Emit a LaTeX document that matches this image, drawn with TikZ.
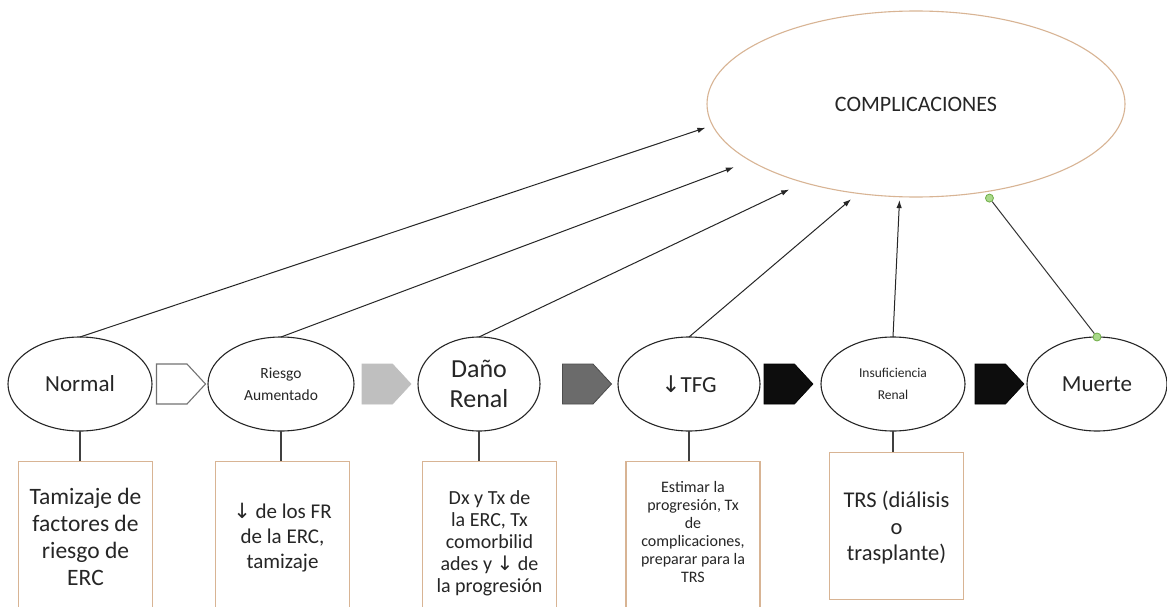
\documentclass[tikz,border=0pt]{standalone}
\usepackage{fontspec}
\setmainfont{Carlito}
\newfontfamily\symfont{DejaVu Sans}
\usetikzlibrary{arrows.meta,shapes.geometric,calc}
\newcommand{\dn}{{\symfont ↓}}
\definecolor{ink}{HTML}{262626}
\definecolor{tanline}{HTML}{D8B494}
\definecolor{dotfill}{HTML}{A9D98A}
\definecolor{dotedge}{HTML}{70AD47}
\tikzset{
  stage/.style={ellipse, draw=black!85, line width=1.1pt, inner sep=0pt, outer sep=0pt,
    minimum height=94, text=ink, align=center},
  note/.style={rectangle, draw=tanline, line width=1.1pt, fill=white, anchor=north,
    inner sep=0pt, minimum width=134, minimum height=170},
  notetext/.style={text=ink, align=center, inner sep=0pt},
  conn/.style={draw=black!85, line width=1pt, -{Latex[length=8pt,width=5.5pt]}},
  stem/.style={draw=black!75, line width=1.2pt},
  gdot/.style={circle, draw=dotedge, fill=dotfill, line width=0.8pt, minimum size=8, inner sep=0pt},
  pics/chev/.style={code={
    \draw[pic actions] (-24.5,-20) -- (6,-20) -- (24.5,0) -- (6,20) -- (-24.5,20) -- cycle;}}
}
\begin{document}
\begin{tikzpicture}[x=1pt,y=-1pt]
\clip (0,0) rectangle (1167,607);
\fill[white] (0,0) rectangle (1167,607);

% complications
\node[ellipse, draw=tanline, line width=1.1pt, inner sep=0pt, outer sep=0pt,
  minimum width=418, minimum height=186, text=ink,
  font=\fontsize{22}{26}\selectfont] (comp) at (916,104) {COMPLICACIONES};

% stages of the disease
\node[stage, minimum width=144, font=\fontsize{23}{27}\selectfont] (normal) at (80,384) {Normal};
\node[stage, minimum width=146, font=\fontsize{15.5}{22}\selectfont] (riesgo) at (281,384) {Riesgo\\Aumentado};
\node[stage, minimum width=122, font=\fontsize{26}{30}\selectfont] (dano) at (479,384) {Daño\\Renal};
\node[stage, minimum width=142, font=\fontsize{23}{27}\selectfont] (tfg) at (689,384) {\dn TFG};
\node[stage, minimum width=144, font=\fontsize{13.5}{22}\selectfont] (insuf) at (893,384) {Insuficiencia\\Renal};
\node[stage, minimum width=140, font=\fontsize{23}{27}\selectfont] (muerte) at (1097,384) {Muerte};

% progression chevrons
\pic[draw=black!55, fill=white, line width=1.1pt] at (181,384) {chev};
\pic[draw=black!25, fill=black!25, line width=0.6pt] at (386.5,384) {chev};
\pic[draw=black!70, fill=black!58, line width=0.8pt] at (587,384) {chev};
\pic[draw=black, fill=black!95, line width=0.6pt] at (788.5,384) {chev};
\pic[draw=black, fill=black!95, line width=0.6pt] at (999.5,384) {chev};

% arrows towards complications
\draw[conn, shorten >=7.6pt] (normal.north) -- (comp.186);
\draw[conn, shorten >=18pt] (riesgo.north) -- (comp.199.1);
\draw[conn, shorten >=16.3pt] (dano.north) -- (comp.215.2);
\draw[conn, shorten >=9.1pt] (tfg.north) -- (comp.237);
\draw[conn, shorten >=3.4pt] (insuf.north) -- (comp.260);

% link between death and complications
\coordinate (gtop) at ($(comp.308)!7.9pt!(muerte.north)$);
\node[gdot] (g1) at (gtop) {};
\node[gdot] (g2) at (muerte.north) {};
\draw[draw=black!80, line width=1pt] (g1) -- (g2);

% management boxes
\node[note] (b1) at (85.5,461) {};
\node[note] (b2) at (282.5,461) {};
\node[note] (b3) at (489.5,461) {};
\node[note] (b4) at (693,461) {};
\node[note, minimum height=147] (b5) at (896.5,452) {};

\draw[stem] (normal.south) -- (normal.south |- b1.north);
\draw[stem] (riesgo.south) -- (riesgo.south |- b2.north);
\draw[stem] (dano.south) -- (dano.south |- b3.north);
\draw[stem] (tfg.south) -- (tfg.south |- b4.north);
\draw[stem] (insuf.south) -- (insuf.south |- b5.north);

\node[notetext, font=\fontsize{23.5}{27}\selectfont] (t1) at (85.5,537)
  {Tamizaje de\\factores de\\riesgo de\\ERC};
\node[notetext, font=\fontsize{21}{25}\selectfont] (t2) at (282.5,538)
  {\dn{} de los FR\\de la ERC,\\tamizaje};
\node[notetext, font=\fontsize{20}{22}\selectfont] (t3) at (489.5,543)
  {Dx y Tx de\\la ERC, Tx\\comorbilid\\ades y \dn{} de\\la progresión};
\node[notetext, font=\fontsize{16}{18}\selectfont] (t4) at (693,532)
  {Estimar la\\progresión, Tx\\de\\complicaciones,\\preparar para la\\TRS};
\node[notetext, font=\fontsize{22.5}{26.5}\selectfont] (t5) at (896.5,528)
  {TRS (diálisis\\o\\trasplante)};
\end{tikzpicture}
\end{document}
